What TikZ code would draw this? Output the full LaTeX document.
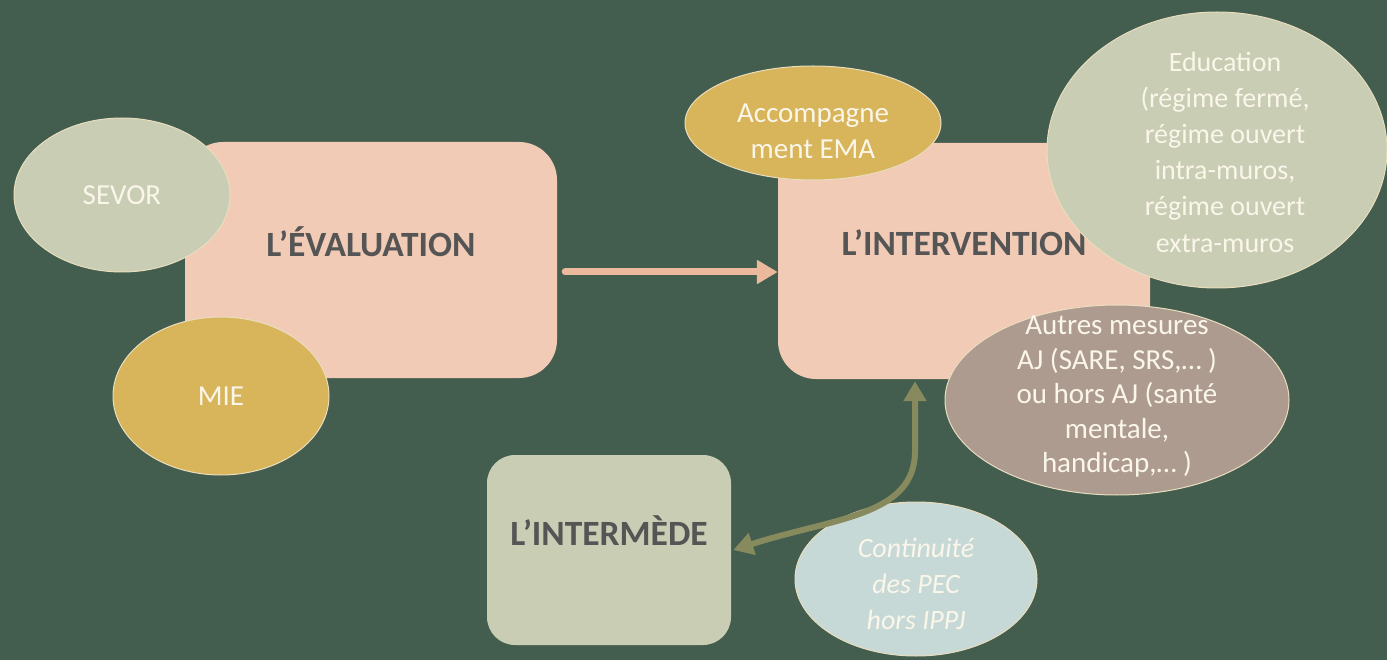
\documentclass[tikz,border=0pt]{standalone}
\usepackage{fontspec}
\setmainfont{Carlito}
\usetikzlibrary{arrows.meta, shapes.geometric}

\definecolor{bggreen}{HTML}{435E4F}
\definecolor{peach}{HTML}{F1CBB5}
\definecolor{salmon}{HTML}{EDB99C}
\definecolor{sage}{HTML}{C8CDB4}
\definecolor{gold}{HTML}{D8B45B}
\definecolor{taupe}{HTML}{AE9B90}
\definecolor{mist}{HTML}{C7D9D6}
\definecolor{cream}{HTML}{FBF6EA}
\definecolor{rim}{HTML}{E9DDBE}
\definecolor{titlegray}{HTML}{555555}
\definecolor{olive}{HTML}{878A5D}

\begin{document}
\begin{tikzpicture}[x=1pt, y=-1pt,
	stage/.style={rounded corners=38pt, inner sep=0pt, minimum width=372pt, minimum height=236pt},
	title/.style={font=\fontsize{35.5}{40}\selectfont\bfseries, text=titlegray},
	bubble/.style={ellipse, draw=rim, line width=1pt, inner sep=0pt},
	bubbletext/.style={text=cream, align=center, inner sep=0pt}]
		% Background
		\useasboundingbox (0,0) rectangle (1387,660);
		\fill[bggreen] (0,0) rectangle (1387,660);
		
		% Define the three stages
		\node[stage, fill=peach] (eval) at (371,260) {};
		\node[stage, fill=peach] (interv) at (964,261) {};
		\node[stage, fill=sage, rounded corners=28pt, minimum width=244pt, minimum height=190pt] (interm) at (609,550) {};
		
		\node[title] (evaltitle) at (371,242) {L’ÉVALUATION};
		\node[title] (intervtitle) at (964,243) {L’INTERVENTION};
		\node[title] (intermtitle) at (609,531) {L’INTERMÈDE};
		
		% Define the bubbles round the stages
		\node[bubble, fill=sage, minimum width=216pt, minimum height=154pt] (sevor) at (122,195) {};
		\node[bubbletext, font=\fontsize{29}{36}\selectfont] (sevortext) at (sevor.center) {SEVOR};
		
		\node[bubble, fill=gold, minimum width=216pt, minimum height=158pt] (mie) at (221,396) {};
		\node[bubbletext, font=\fontsize{29}{36}\selectfont] (mietext) at (mie.center) {MIE};
		
		\node[bubble, fill=gold, minimum width=256pt, minimum height=114pt] (ema) at (813,123) {};
		\node[bubbletext, font=\fontsize{29}{36}\selectfont] (ematext) at (813,131) {Accompagne\\ment EMA};
		
		\node[bubble, fill=sage, minimum width=340pt, minimum height=276pt] (edu) at (1217,150) {};
		\node[bubbletext, font=\fontsize{28}{36.2}\selectfont] (edutext) at (1225,152) {Education\\(régime fermé,\\régime ouvert\\intra-muros,\\régime ouvert\\extra-muros};
		
		\node[bubble, fill=taupe, minimum width=344pt, minimum height=190pt] (autres) at (1117,400) {};
		\node[bubbletext, font=\fontsize{29}{34.5}\selectfont] (autrestext) at (1117,397) {Autres mesures\\AJ (SARE, SRS,… )\\ou hors AJ (santé\\mentale,\\handicap,… )};
		
		\node[bubble, fill=mist, minimum width=242pt, minimum height=154pt] (pec) at (916,579) {};
		\node[bubbletext, font=\fontsize{28}{36}\selectfont\itshape] (pectext) at (916,584) {Continuité\\des PEC\\hors IPPJ};
		
		% Draw connections
		\draw[salmon, line width=7pt, line cap=round, -{Triangle[length=21pt, width=23pt]}] ([xshift=8pt, yshift=-12pt]eval.east) -- ([yshift=-11pt]interv.west);
		\draw[olive, line width=6pt, {Triangle[length=20pt, width=22pt]}-{Triangle[length=20pt, width=22pt]}] ([xshift=-49pt, yshift=-2pt]interv.south) -- ++(0,70) .. controls +(0,65) and +(100,-32) .. ([xshift=2pt]interm.east);
	\end{tikzpicture}
\end{document}
